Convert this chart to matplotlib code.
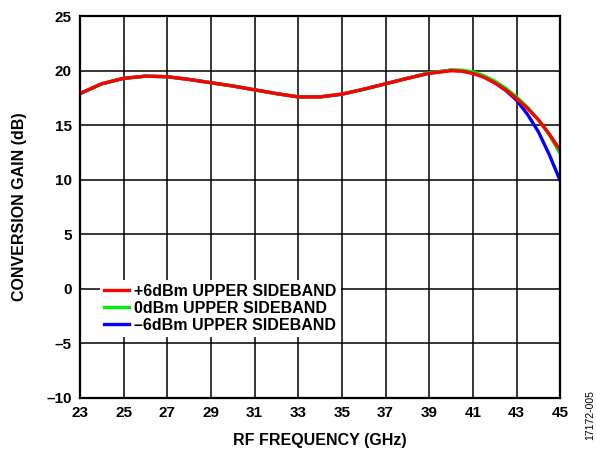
import matplotlib.pyplot as plt

plt.rcParams['font.family'] = ['Liberation Sans', 'DejaVu Sans']

freq = [23, 24, 25, 26, 27, 28, 29, 30, 31, 32, 33, 34, 35, 36, 37, 38, 39, 40,
        40.5, 41, 41.5, 42, 42.5, 43, 43.5, 44, 44.5, 45]
gain_p6 = [17.9, 18.8, 19.3, 19.5, 19.45, 19.2, 18.9, 18.6, 18.25, 17.9, 17.6, 17.6,
           17.85, 18.3, 18.8, 19.3, 19.75, 20.0,
           19.95, 19.75, 19.4, 18.9, 18.25, 17.45, 16.55, 15.5, 14.2, 12.7]
gain_0 = [17.9, 18.8, 19.3, 19.5, 19.45, 19.2, 18.9, 18.6, 18.25, 17.9, 17.6, 17.6,
          17.85, 18.3, 18.8, 19.3, 19.8, 20.05,
          20.05, 19.9, 19.55, 19.05, 18.4, 17.6, 16.65, 15.5, 14.1, 12.4]
gain_m6 = [17.9, 18.8, 19.3, 19.5, 19.45, 19.2, 18.9, 18.6, 18.25, 17.9, 17.6, 17.6,
           17.85, 18.3, 18.8, 19.3, 19.8, 20.05,
           20.0, 19.8, 19.45, 18.9, 18.2, 17.3, 16.0, 14.4, 12.3, 9.9]

x_ticks = list(range(23, 46, 2))
y_ticks = list(range(-10, 26, 5))

fig = plt.figure(figsize=(5.96, 4.49), dpi=100)
ax = fig.add_axes([0.134, 0.1136, 0.806, 0.8504])

l_m6, = ax.plot(freq, gain_m6, color='#0000ff', lw=2.4, label='–6dBm UPPER SIDEBAND')
l_0, = ax.plot(freq, gain_0, color='#00ee00', lw=2.4, label='0dBm UPPER SIDEBAND')
l_p6, = ax.plot(freq, gain_p6, color='#ff0000', lw=2.4, label='+6dBm UPPER SIDEBAND')

ax.set_xlim(23, 45)
ax.set_ylim(-10, 25)
ax.set_xticks(x_ticks)
ax.set_yticks(y_ticks)
ax.set_yticklabels([str(v).replace('-', '–') for v in y_ticks])
ax.grid(True, color='black', lw=1.1)
ax.set_axisbelow(True)
ax.tick_params(length=0, labelsize=11, pad=6)
for lab in ax.get_xticklabels() + ax.get_yticklabels():
    lab.set_fontweight('bold')
for s in ax.spines.values():
    s.set_linewidth(1.6)

ax.set_xlabel('RF FREQUENCY (GHz)', fontsize=11.5, fontweight='bold', labelpad=9)
ax.set_ylabel('CONVERSION GAIN (dB)', fontsize=11.5, fontweight='bold', labelpad=14)

leg = ax.legend(handles=[l_p6, l_0, l_m6], loc='upper left',
                bbox_to_anchor=(0.025, 0.33), frameon=True, fancybox=False,
                edgecolor='none', facecolor='white', framealpha=1,
                prop={'weight': 'bold', 'size': 11.5}, handlelength=1.55,
                handletextpad=0.35, labelspacing=0.12, borderpad=0.25)

fig.text(0.99, 0.02, '17172-005', rotation=90, fontsize=7.5, ha='center', va='bottom')

fig.savefig('out.png', dpi=100)
